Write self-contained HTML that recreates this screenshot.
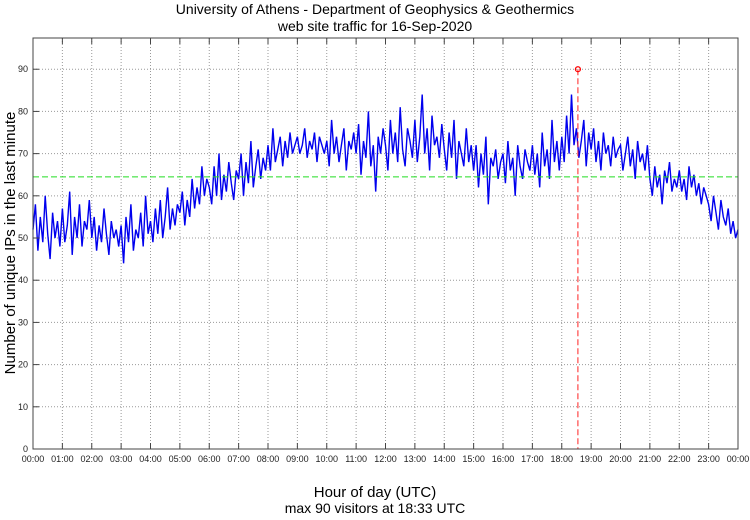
<!DOCTYPE html>
<html><head><meta charset="utf-8"><style>
body{margin:0;background:#fff;width:750px;height:515px;overflow:hidden;font-family:"Liberation Sans",sans-serif}
</style></head><body>
<svg id="chart" width="750" height="515" xmlns="http://www.w3.org/2000/svg" font-family="Liberation Sans, sans-serif">
<text x="375" y="14" text-anchor="middle" font-size="14">University of Athens - Department of Geophysics &amp; Geothermics</text>
<text x="375" y="31" text-anchor="middle" font-size="14">web site traffic for 16-Sep-2020</text>
<text x="375" y="497" text-anchor="middle" font-size="15">Hour of day (UTC)</text>
<text x="375" y="513" text-anchor="middle" font-size="14">max 90 visitors at 18:33 UTC</text>
<text transform="translate(15,243) rotate(-90)" text-anchor="middle" font-size="15">Number of unique IPs in the last minute</text>
<g id="grid"></g><g id="series"></g><g id="axes"></g>
</svg>
<script>
const xTickLabels=["00:00","01:00","02:00","03:00","04:00","05:00","06:00","07:00","08:00","09:00","10:00","11:00","12:00","13:00","14:00","15:00","16:00","17:00","18:00","19:00","20:00","21:00","22:00","23:00","00:00"];
const yTicks=[0,10,20,30,40,50,60,70,80,90];
const avgValue=64.5;
const maxValue=90;
const maxHour=18+33/60;
const visitors=[
52,58,47,55,49,60,51,45,56,50,54,48,
57,49,53,61,46,55,50,58,48,54,52,59,
50,55,47,53,49,57,51,46,54,50,52,48,
53,44,55,49,58,47,52,50,56,48,60,51,
54,49,57,51,59,50,55,62,52,57,53,58,
56,61,53,59,55,64,57,62,58,67,60,64,
62,58,67,60,70,59,65,61,68,63,59,66,
64,70,60,68,63,73,62,67,71,64,69,66,
72,66,76,68,71,74,67,73,69,75,70,72,
74,70,72,76,69,73,71,75,68,74,72,70,
73,67,78,70,74,68,72,76,66,73,71,75,
70,77,65,73,69,80,67,72,61,74,70,76,
72,66,78,70,75,68,81,71,67,76,73,69,
78,68,74,84,70,76,66,79,72,74,69,77,
71,66,75,69,78,64,73,70,67,76,68,72,
66,72,62,70,65,74,58,69,67,71,64,68,
70,63,73,66,69,60,72,67,64,71,68,66,
72,65,70,62,75,67,71,64,78,68,73,66,
74,68,79,70,84,72,76,69,73,78,67,75,
71,76,68,73,66,75,70,72,67,74,69,71,
72,66,70,74,67,71,64,73,68,70,66,72,
64,60,67,62,65,58,66,63,68,61,64,62,
66,61,64,59,67,62,65,60,63,58,62,60,
58,54,60,56,52,59,55,53,57,51,54,50,52];
const L=33,R=738,T=38,B=449,YMAX=97.4;
const xs=h=>L+(R-L)*h/24;
const ys=v=>B-(B-T)*v/YMAX;
const NS="http://www.w3.org/2000/svg";
function mk(parent,tag,attrs){const e=document.createElementNS(NS,tag);for(const k in attrs)e.setAttribute(k,attrs[k]);document.getElementById(parent).appendChild(e);return e;}
xTickLabels.forEach((t,i)=>{
  if(i>0&&i<24){const g=mk('grid','line',{x1:xs(i),x2:xs(i),y1:T,y2:B,stroke:'#999','stroke-dasharray':'1,2','stroke-width':1});
  
  
  const tk=mk('axes','line',{x1:xs(i),x2:xs(i),y1:T,y2:T+6,stroke:'#444'});
  
  
  const tb=mk('axes','line',{x1:xs(i),x2:xs(i),y1:B,y2:B-6,stroke:'#444'});
  
  }
  const tx=mk('axes','text',{x:xs(i),y:B+13,'text-anchor':'middle','font-size':9,fill:'#222'});
  tx.textContent=t;
  
  
});
yTicks.forEach(v=>{
  if(v>0){const g=mk('grid','line',{x1:L,x2:R,y1:ys(v),y2:ys(v),stroke:'#999','stroke-dasharray':'1,2'});
  
  
  const tk=mk('axes','line',{x1:L,x2:L+6,y1:ys(v),y2:ys(v),stroke:'#444'});
  
  }
  const tx=mk('axes','text',{x:L-5,y:ys(v)+3,'text-anchor':'end','font-size':9,fill:'#222'});
  tx.textContent=v;
  
  
});
const fr=mk('axes','rect',{x:L,y:T,width:R-L,height:B-T,fill:'none',stroke:'#444'});


const n=visitors.length-1;
const pts=visitors.map((v,i)=>xs(24*i/n).toFixed(1)+','+ys(v).toFixed(1)).join(' ');
const line=mk('series','polyline',{points:pts,fill:'none',stroke:'#0000ee','stroke-width':1.4});


const avg=mk('series','line',{x1:L,x2:R,y1:ys(avgValue),y2:ys(avgValue),stroke:'#22dd22','stroke-dasharray':'6,3'});


const mv=mk('series','line',{x1:xs(maxHour),x2:xs(maxHour),y1:ys(maxValue),y2:B,stroke:'#ff2222','stroke-dasharray':'6,3'});


const mc=mk('series','circle',{cx:xs(maxHour),cy:ys(maxValue),r:2.5,fill:'none',stroke:'#ff0000','stroke-width':1.2});


</script>
</body></html>
